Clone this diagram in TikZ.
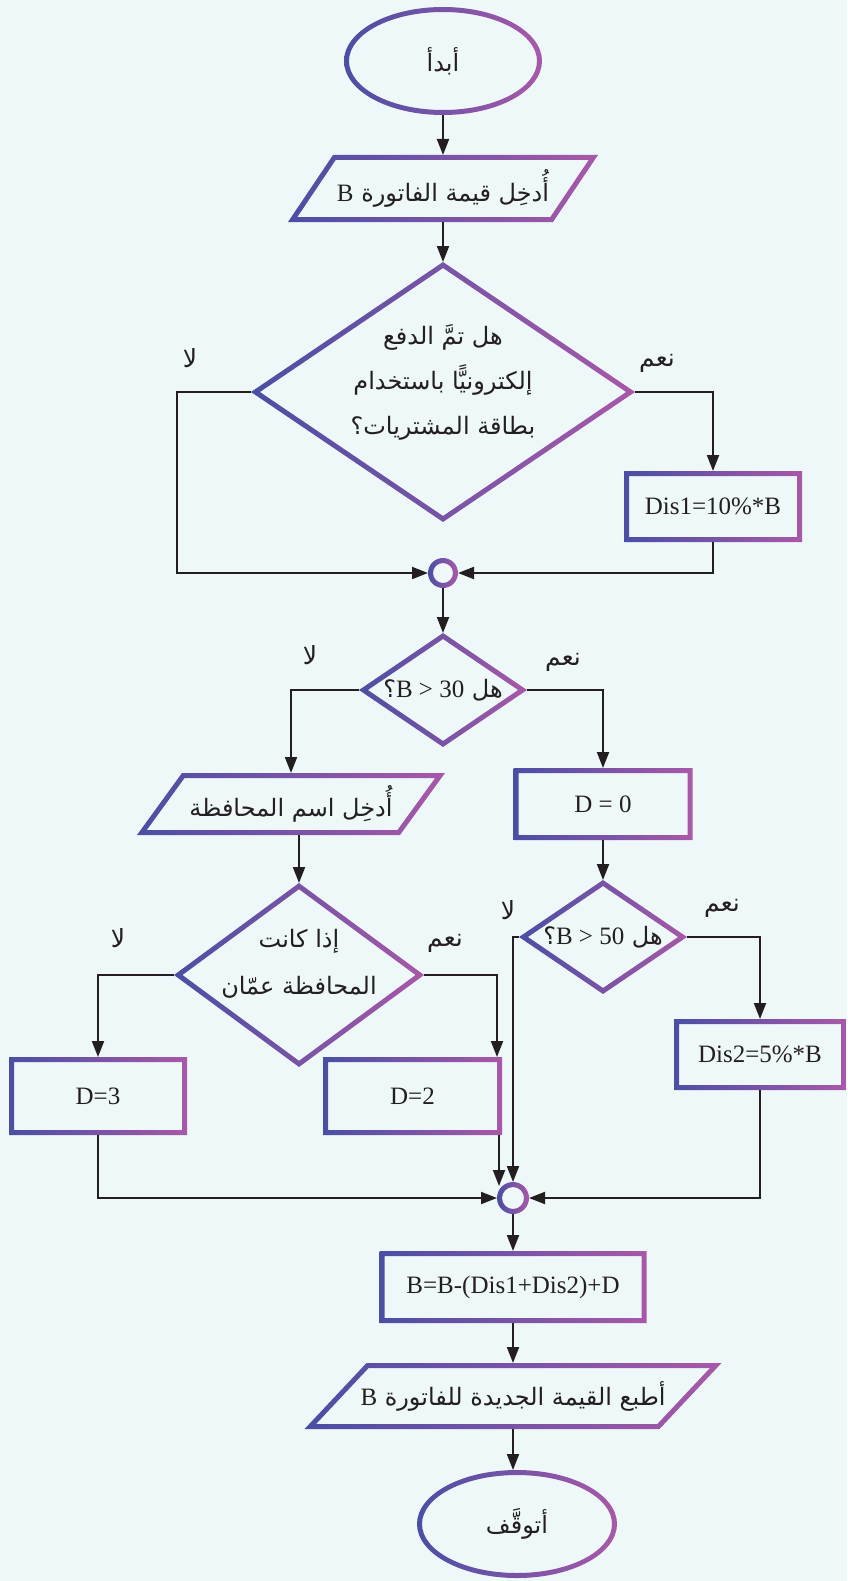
\documentclass[tikz,border=0pt]{standalone}
\usepackage{fontspec}
\setmainfont{Liberation Serif}
\newfontfamily\arabicfont[Script=Arabic]{DejaVu Sans}
\TeXXeTstate=1
\usetikzlibrary{arrows.meta,calc,shapes.geometric}
\definecolor{bgc}{RGB}{239,248,249}
\definecolor{gA}{RGB}{74,79,164}
\definecolor{gB}{RGB}{168,88,168}
\definecolor{ink}{RGB}{35,31,32}
\tikzset{
  gborder/.style={left color=gA, right color=gB, even odd rule},
  arr/.style={draw=ink, line width=2pt, -{Triangle[length=16pt,width=12pt]}},
  shapebox/.style={inner sep=0pt, outer sep=0pt},
  ar/.style={font=\arabicfont\fontsize{24}{45}\selectfont, text=ink},
  lab/.style={font=\arabicfont\fontsize{25}{30}\selectfont, text=ink},
  lt/.style={font=\fontsize{25}{30}\selectfont, text=ink},
}
\newcommand\LT[1]{{\normalfont\fontsize{25}{30}\selectfont #1}}
\newcommand\gRect[6]{% name cx cy W H text (outer)
  \pgfmathsetmacro\gWa{#4/2}\pgfmathsetmacro\gHa{#5/2}%
  \pgfmathsetmacro\gWb{#4/2-5}\pgfmathsetmacro\gHb{#5/2-5}%
  \shade[gborder] (#2-\gWa,#3-\gHa) rectangle (#2+\gWa,#3+\gHa)
                  (#2-\gWb,#3-\gHb) rectangle (#2+\gWb,#3+\gHb);
  \node[shapebox, rectangle, minimum width=#4, minimum height=#5, lt] (#1) at (#2,#3) {#6};
}
\newcommand\gEll{\gEllipse}
\newcommand\gEllipse[6]{% name cx cy A B text
  \shade[gborder] (#2,#3) ellipse [x radius=#4pt, y radius=#5pt]
                  (#2,#3) ellipse [x radius=#4pt-5pt, y radius=#5pt-5pt];
  \node[shapebox, ellipse, minimum width=2*#4pt, minimum height=2*#5pt, ar] (#1) at (#2,#3) {#6};
}
\newcommand\gCirc[4]{% name cx cy R
  \shade[gborder] (#2,#3) circle [radius=#4pt] (#2,#3) circle [radius=#4pt-5pt];
  \node[shapebox, circle, minimum size=2*#4pt] (#1) at (#2,#3) {};
}
\newcommand\gDia[5]{% name cx cy A B (outer)
  \pgfmathsetmacro\gL{100*sqrt((#4/100)*(#4/100)+(#5/100)*(#5/100))}%
  \pgfmathsetmacro\gIa{#4-5*\gL/(#5)}%
  \pgfmathsetmacro\gIb{#5-5*\gL/(#4)}%
  \shade[gborder] (#2-#4,#3) -- (#2,#3-#5) -- (#2+#4,#3) -- (#2,#3+#5) -- cycle
     (#2-\gIa,#3) -- (#2,#3-\gIb) -- (#2+\gIa,#3) -- (#2,#3+\gIb) -- cycle;
  \node[shapebox, diamond, minimum width=2*#4pt, minimum height=2*#5pt] (#1) at (#2,#3) {};
}
\newcommand\gPara[7]{% name cx cy W H S text
  \pgfmathsetmacro\gE{5*100*sqrt((#5/100)*(#5/100)+(#6/100)*(#6/100))/(#5)}%
  \pgfmathsetmacro\gHi{#5-10}%
  \pgfmathsetmacro\gSi{#6*\gHi/(#5)}%
  \pgfmathsetmacro\gWi{#4-2*\gE}%
  \shade[gborder] (#2-#4/2+#6/2,#3-#5/2) -- (#2+#4/2+#6/2,#3-#5/2) -- (#2+#4/2-#6/2,#3+#5/2) -- (#2-#4/2-#6/2,#3+#5/2) -- cycle
   (#2-\gWi/2+\gSi/2,#3-\gHi/2) -- (#2+\gWi/2+\gSi/2,#3-\gHi/2) -- (#2+\gWi/2-\gSi/2,#3+\gHi/2) -- (#2-\gWi/2-\gSi/2,#3+\gHi/2) -- cycle;
  \node[shapebox, rectangle, minimum width=#4pt-#6pt, minimum height=#5pt, ar] (#1) at (#2,#3) {#7};
}
\begin{document}
\begin{tikzpicture}[x=1pt,y=-1pt]
\useasboundingbox (0,0) rectangle (847,1581);
\fill[bgc] (0,0) rectangle (847,1581);

% shapes
\gEll{e1}{443}{61}{99}{54}{\beginR أبدأ\endR}
\gPara{p1}{443}{188.5}{265}{67}{45}{\beginR أُدخِل قيمة الفاتورة \LT{B}\endR}
\gDia{d1}{443}{392}{192}{130}
\node[ar, align=center] (d1t) at (443,382) {\beginR هل تمَّ الدفع\endR\\ \beginR إلكترونيًّا باستخدام\endR\\ \beginR بطاقة المشتريات؟\endR};
\gRect{Dis1}{713}{506.5}{178}{71}{Dis1=10\%*B}
\gCirc{c1}{443}{573}{15}
\gDia{d2}{443}{690}{84}{57}
\node[ar] (d2t) at (443,690) {\beginR هل \beginL\LT{B > 30}\endL؟\endR};
\gPara{p2}{291}{804}{263}{62}{45}{\beginR أُدخِل اسم المحافظة\endR}
\gRect{D0}{603}{804}{179}{72}{D = 0}
\gDia{d4}{299}{975}{125}{92}
\node[ar, align=center] (d4t) at (299,964) {\beginR إذا كانت\endR\\[2pt] \beginR المحافظة عمّان\endR};
\gDia{d3}{603}{937}{84}{57}
\node[ar] (d3t) at (603,937) {\beginR هل \beginL\LT{B > 50}\endL؟\endR};
\gRect{Dis2}{760}{1054.5}{172}{71}{Dis2=5\%*B}
\gRect{D3}{98}{1096}{178}{78}{D=3}
\gRect{D2}{412.5}{1096}{179}{78}{D=2}
\gCirc{c2}{513}{1198}{16}
\gRect{Bx}{513}{1287}{267}{72}{B=B-(Dis1+Dis2)+D}
\gPara{p3}{513}{1396}{355}{66}{62}{\beginR أطبع القيمة الجديدة للفاتورة \LT{B}\endR}
\gEll{e2}{517}{1524}{100}{54}{\beginR أتوقَّف\endR}

% labels
\node[lab] (l1) at (190,358) {\beginR لا\endR};
\node[lab] (y1) at (657,363) {\beginR نعم\endR};
\node[lab] (l2) at (310,655) {\beginR لا\endR};
\node[lab] (y2) at (563,662) {\beginR نعم\endR};
\node[lab] (l3) at (508,910) {\beginR لا\endR};
\node[lab] (y3) at (722,908) {\beginR نعم\endR};
\node[lab] (l4) at (118,938) {\beginR لا\endR};
\node[lab] (y4) at (445,943) {\beginR نعم\endR};

% helper coordinates
\coordinate (d1L) at (177,392);
\coordinate (D2in) at ($(D2.north east)+(-5,0)$);
\coordinate (D2out) at ($(D2.south east)+(-3,0)$);
\coordinate (c2tip) at ($(c2.center)+(0,-12)$);

% connectors
\draw[arr] (e1.south) -- (p1.north);
\draw[arr] (p1.south) -- (d1.north);
\draw[arr] (d1.west) -- (d1L) |- (c1.west);
\draw[arr] (d1.east) -| (Dis1.north);
\draw[arr] (Dis1.south) |- (c1.east);
\draw[arr] (c1.south) -- (d2.north);
\draw[arr] (d2.west) -| (p2.north);
\draw[arr] (d2.east) -| (D0.north);
\draw[arr] (p2.south -| d4.north) -- (d4.north);
\draw[arr] (D0.south) -- (d3.north);
\draw[arr] (d4.west) -| (D3.north);
\draw[arr] (d4.east) -| (D2in);
\draw[arr] (d3.west) -| (c2.north);
\draw[arr] (d3.east) -| (Dis2.north);
\draw[arr] (D3.south) |- (c2.west);
\draw[arr] (D2out) -- (D2out |- c2tip);
\draw[arr] (Dis2.south) |- (c2.east);
\draw[arr] (c2.south) -- (Bx.north);
\draw[arr] (Bx.south) -- (p3.north);
\draw[arr] (p3.south) -- (p3.south |- e2.north);
\end{tikzpicture}
\end{document}
